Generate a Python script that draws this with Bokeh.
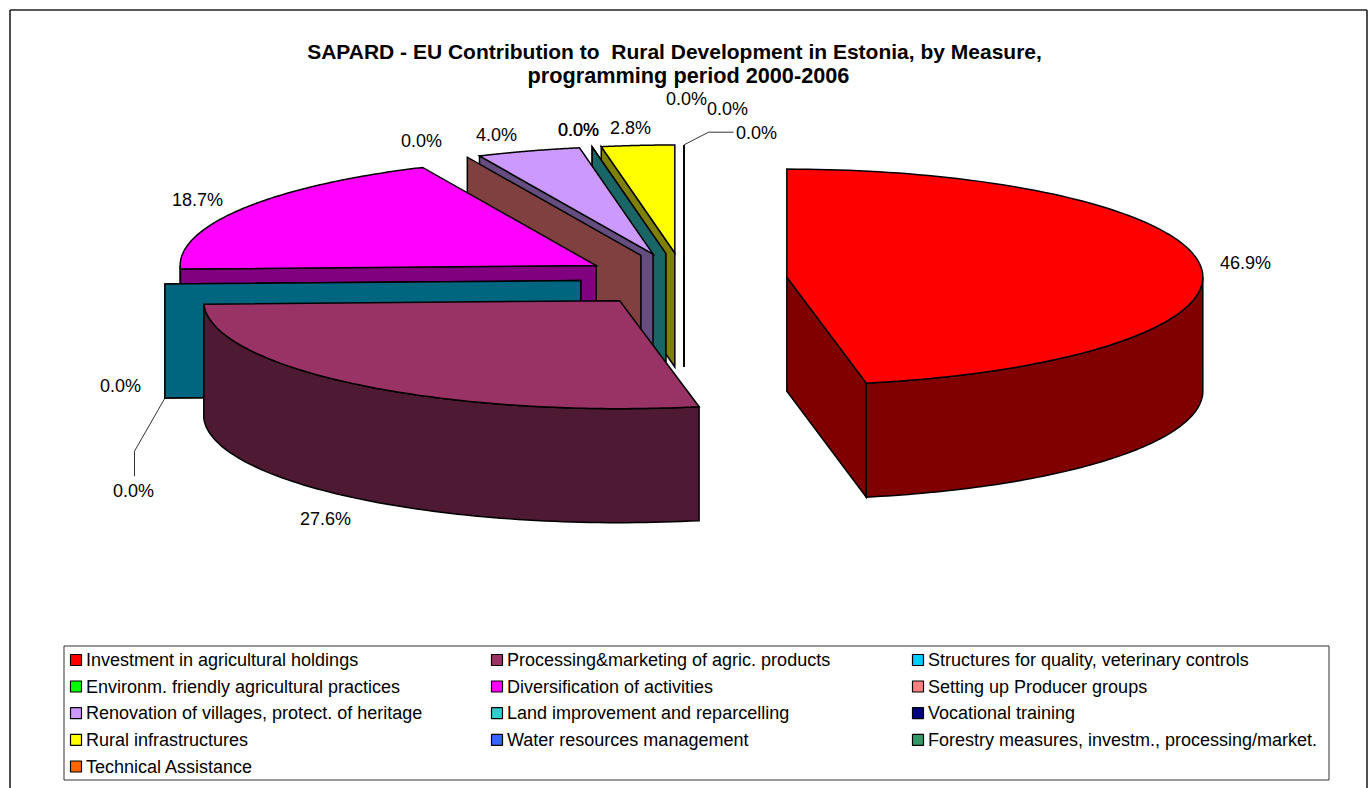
import numpy as np
from bokeh.plotting import figure
from bokeh.models import Range1d
from bokeh.core.properties import value
from bokeh.embed import file_html
from bokeh.resources import INLINE

title_lines = ["SAPARD - EU Contribution to \u00a0Rural Development in Estonia, by Measure,",
               "programming period 2000-2006"]
measures = ["Investment in agricultural holdings", "Processing&marketing of agric. products",
            "Structures for quality, veterinary controls", "Environm. friendly agricultural practices",
            "Diversification of activities", "Setting up Producer groups",
            "Renovation of villages, protect. of heritage", "Land improvement and reparcelling",
            "Vocational training", "Rural infrastructures", "Water resources management",
            "Forestry measures, investm., processing/market.", "Technical Assistance"]
shares = [46.94, 27.55, 0.0, 0.0, 18.66, 0.0, 4.02, 0.0, 0.0, 2.83, 0.0, 0.0, 0.0]
top_colors = ["#FF0000", "#993366", "#00CCFF", "#00FF00", "#FF00FF", "#FF8080", "#CC99FF",
              "#33CCCC", "#000080", "#FFFF00", "#3366FF", "#339966", "#FF6600"]
side_colors = ["#800000", "#4D1933", "#006680", "#008000", "#800080", "#804040", "#664D80",
               "#1A6666", "#000040", "#808000", "#1A3380", "#1A4D33", "#803300"]
# label anchor of each measure's percentage (page pixels)
label_x = [1245, 325, 133, 120, 197, 421, 496, 578, 578, 630, 756, 727, 686]
label_y = [262, 518, 490, 385, 199, 140, 134, 129, 129, 127, 132, 108, 98]

CX, CY = 683.5, 279.2
RX, RY = 416.0, 108.0
DEPTH = 114.0
EXPLODE = 103.3

p = figure(width=1371, height=788, x_range=Range1d(0, 1371), y_range=Range1d(788, 0),
           toolbar_location=None, output_backend="svg", min_border=0,
           x_axis_location=None, y_axis_location=None)
p.grid.visible = False
p.outline_line_color = None
FONT = value("Liberation Sans")

# chart frame (open at the bottom, which lies beyond the window)
p.line([9.5, 9.5], [788, 9.5], line_color="#222222", line_width=1.6)
p.line([9.5, 1366.5], [9.5, 9.5], line_color="#222222", line_width=1.6)
p.line([1366.5, 1366.5], [9.5, 788], line_color="#222222", line_width=1.6)

total = sum(shares)
ends = np.cumsum(shares) / total * 360.0
starts = ends - np.array(shares) / total * 360.0


def pt(ax, ay, theta):
    t = np.radians(theta)
    return ax + RX * np.sin(t), ay - RY * np.cos(t)


def apex(i):
    mid = np.radians((starts[i] + ends[i]) / 2)
    return CX + EXPLODE * np.sin(mid), CY - EXPLODE * RY / RX * np.cos(mid)


xs, ys, fills = [], [], []


def add(px, py, c):
    xs.append(list(px)); ys.append(list(py)); fills.append(c)


def wall(i, theta):
    ax, ay = apex(i)
    rx, ry = pt(ax, ay, theta)
    add([ax, rx, rx, ax], [ay, ry, ry + DEPTH, ay + DEPTH], side_colors[i])


def rim(i, a, b):
    ax, ay = apex(i)
    th = np.linspace(a, b, 80)
    rx, ry = pt(ax, ay, th)
    add(np.r_[rx, rx[::-1]], np.r_[ry, ry[::-1] + DEPTH], side_colors[i])


def top(i):
    ax, ay = apex(i)
    th = np.linspace(starts[i], ends[i], 120)
    rx, ry = pt(ax, ay, th)
    add(np.r_[ax, rx], np.r_[ay, ry], top_colors[i])


# back-to-front painting order
for i in [12, 11, 10]:
    wall(i, starts[i])
for i in [9, 8, 7, 6, 5, 4, 3, 2]:
    wall(i, starts[i])
    if shares[i] > 0:
        if ends[i] >= 270 and starts[i] < 270:
            rim(i, starts[i], 270)
        top(i)
# first slice, stands apart on the right
wall(0, ends[0])
rim(0, 90, ends[0])
top(0)
# second slice, in front of everything
rim(1, starts[1], ends[1])
top(1)

p.patches(xs, ys, fill_color=fills, line_color="#000000", line_width=1.5, line_join="miter")

# leader lines
a0 = apex(12)
r0 = pt(a0[0], a0[1], 360)
p.line([r0[0], 708, 733], [r0[1], 131.7, 131.7], line_color="#000000", line_width=0.8)
a3 = apex(2)
r3 = pt(a3[0], a3[1] + DEPTH, starts[2])
p.line([r3[0], 134, 134], [r3[1], 450.7, 475.7], line_color="#000000", line_width=0.8)

labels = [f"{v / total * 100:.1f}%" for v in shares]
p.text(label_x, label_y, text=labels, text_font=FONT, text_font_size="18px",
       text_align="center", text_baseline="middle", text_color="#000000")

# title
p.text([674], [51], text=title_lines[:1], text_font=FONT, text_font_size="21px",
       text_font_style="bold", text_align="center", text_baseline="alphabetic", text_color="#000000")
p.text([688], [75], text=title_lines[1:], text_font=FONT, text_font_size="21.7px",
       text_font_style="bold", text_align="center", text_baseline="alphabetic", text_color="#000000")

# legend
p.quad(left=[63.5], right=[1328.5], top=[645.5], bottom=[779.5], fill_color="#FFFFFF",
       line_color="#333333", line_width=1)
col_x = [75.5, 496.5, 917.5]
row_y = [659.5, 686, 712.7, 739.4, 766]
n_cols = len(col_x)
sw_x = [col_x[i % n_cols] for i in range(len(measures))]
sw_y = [row_y[i // n_cols] for i in range(len(measures))]
p.rect(sw_x, sw_y, width=11, height=11, fill_color=top_colors, line_color="#000000", line_width=1.2)
p.text([x + 10 for x in sw_x], sw_y, text=measures, text_font=FONT, text_font_size="18px",
       text_align="left", text_baseline="middle", text_color="#000000")

open("out.html", "w").write(file_html(p, INLINE))
